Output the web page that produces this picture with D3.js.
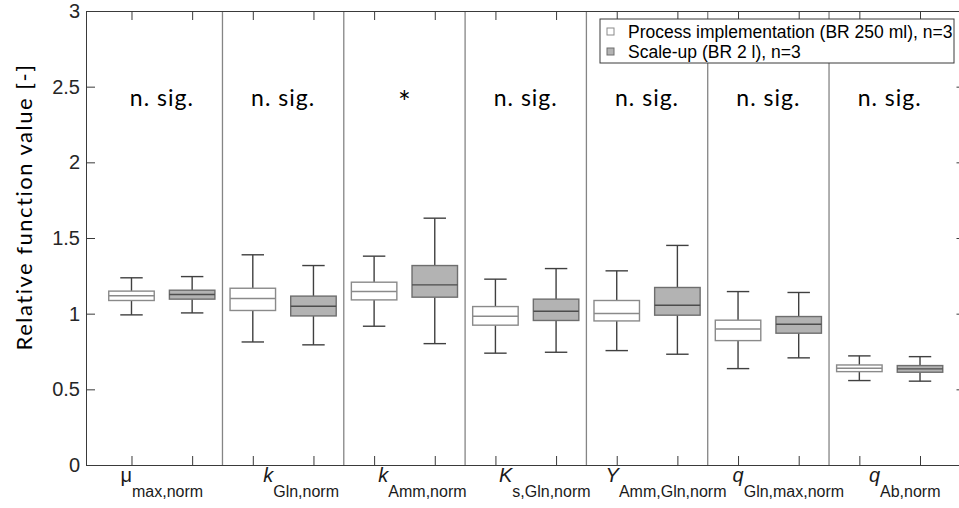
<!DOCTYPE html>
<html>
<head>
<meta charset="utf-8">
<script src="https://cdn.jsdelivr.net/npm/d3@7/dist/d3.min.js"></script>
<style>
  html, body { margin: 0; padding: 0; background: #fff; }
  svg { display: block; }
</style>
</head>
<body>
<svg id="chart" width="959" height="508"></svg>
<script>
// Parameter labels: main symbol + subscript
const labelMain = ["μ", "k", "k", "K", "Y", "q", "q"];
const labelSub = ["max,norm", "Gln,norm", "Amm,norm", "s,Gln,norm", "Amm,Gln,norm", "Gln,max,norm", "Ab,norm"];
const labelItalic = [false, true, true, true, true, true, true];

// Significance annotation per parameter
const significance = ["n. sig.", "n. sig.", "*", "n. sig.", "n. sig.", "n. sig.", "n. sig."];

// Series names
const seriesNames = ["Process implementation (BR 250 ml), n=3", "Scale-up (BR 2 l), n=3"];

// Process implementation (BR 250 ml): box-plot statistics
const implWhiskerLow  = [0.992, 0.813, 0.917, 0.739, 0.756, 0.637, 0.558];
const implQ1          = [1.087, 1.021, 1.091, 0.924, 0.952, 0.822, 0.617];
const implMedian      = [1.118, 1.100, 1.146, 0.983, 1.001, 0.899, 0.639];
const implQ3          = [1.149, 1.168, 1.208, 1.047, 1.087, 0.957, 0.661];
const implWhiskerHigh = [1.237, 1.389, 1.380, 1.228, 1.283, 1.146, 0.721];

// Scale-up (BR 2 l): box-plot statistics
const scaleWhiskerLow  = [1.005, 0.794, 0.802, 0.745, 0.732, 0.708, 0.554];
const scaleQ1          = [1.096, 0.985, 1.109, 0.955, 0.990, 0.871, 0.613];
const scaleMedian      = [1.127, 1.049, 1.190, 1.016, 1.056, 0.930, 0.635];
const scaleQ3          = [1.155, 1.116, 1.318, 1.096, 1.173, 0.981, 0.657];
const scaleWhiskerHigh = [1.245, 1.318, 1.631, 1.298, 1.451, 1.140, 0.716];

// Y tick values
const yTicks = [0, 0.5, 1, 1.5, 2, 2.5, 3];

// ---- layout ----
const svg = d3.select("#chart");
const plotLeft = 86, plotRight = 965.5, plotTop = 11, plotBottom = 465;
const tickLen = 9;
const labelNudge = [0, 18, 18, 19, 19, 20, 15];

const x = d3.scaleLinear().domain([0.25, 14.75]).range([plotLeft, plotRight]);
const y = d3.scaleLinear().domain([0, 3]).range([plotBottom, plotTop]);

const boxW = x(0.75) - x(0);
const capW = x(0.37) - x(0);

const series = [
  { lo: implWhiskerLow, q1: implQ1, med: implMedian, q3: implQ3, hi: implWhiskerHigh,
    fill: "#ffffff", edge: "#8a8a8a", medColor: "#8a8a8a", offset: 1 },
  { lo: scaleWhiskerLow, q1: scaleQ1, med: scaleMedian, q3: scaleQ3, hi: scaleWhiskerHigh,
    fill: "#b3b3b3", edge: "#6e6e6e", medColor: "#4d4d4d", offset: 2 }
];

// Group separators
const seps = d3.range(1, labelMain.length).map(i => 2 * i + 0.5);
svg.append("g").selectAll("line").data(seps).join("line")
  .attr("x1", d => x(d)).attr("x2", d => x(d))
  .attr("y1", plotTop).attr("y2", plotBottom)
  .attr("stroke", "#858585").attr("stroke-width", 1.3);

// Box plots
series.forEach(s => {
  const g = svg.append("g");
  const idx = d3.range(labelMain.length);
  const pos = i => x(2 * i + s.offset);
  // whiskers
  g.append("g").selectAll("line").data(idx).join("line")
    .attr("x1", pos).attr("x2", pos)
    .attr("y1", i => y(s.q3[i])).attr("y2", i => y(s.hi[i]))
    .attr("stroke", "#404040").attr("stroke-width", 1.4);
  g.append("g").selectAll("line").data(idx).join("line")
    .attr("x1", pos).attr("x2", pos)
    .attr("y1", i => y(s.q1[i])).attr("y2", i => y(s.lo[i]))
    .attr("stroke", "#404040").attr("stroke-width", 1.4);
  // caps
  [s.hi, s.lo].forEach(arr => {
    g.append("g").selectAll("line").data(idx).join("line")
      .attr("x1", i => pos(i) - capW / 2).attr("x2", i => pos(i) + capW / 2)
      .attr("y1", i => y(arr[i])).attr("y2", i => y(arr[i]))
      .attr("stroke", "#404040").attr("stroke-width", 1.4);
  });
  // boxes
  g.append("g").selectAll("rect").data(idx).join("rect")
    .attr("x", i => pos(i) - boxW / 2).attr("width", boxW)
    .attr("y", i => y(s.q3[i])).attr("height", i => y(s.q1[i]) - y(s.q3[i]))
    .attr("fill", s.fill).attr("stroke", s.edge).attr("stroke-width", 1.4);
  // medians
  g.append("g").selectAll("line").data(idx).join("line")
    .attr("x1", i => pos(i) - boxW / 2).attr("x2", i => pos(i) + boxW / 2)
    .attr("y1", i => y(s.med[i])).attr("y2", i => y(s.med[i]))
    .attr("stroke", s.medColor).attr("stroke-width", 1.4);
});

// Axes (inward ticks on all four sides)
const boxPositions = d3.range(1, 2 * labelMain.length + 1);
const axisColor = "#3a3a3a";
function styleAxis(g) {
  g.selectAll("path, line").attr("stroke", axisColor).attr("stroke-width", 1);
  g.selectAll("text").attr("fill", "#262626")
    .attr("font-family", "'Liberation Sans', Arial, sans-serif").attr("font-size", 20);
}
svg.append("g").attr("transform", `translate(${plotLeft},0)`)
  .call(d3.axisLeft(y).tickValues(yTicks).tickSize(-tickLen).tickSizeOuter(0).tickPadding(6)
    .tickFormat(d3.format("")))
  .call(styleAxis);
svg.append("g").attr("transform", `translate(${plotRight},0)`)
  .call(d3.axisRight(y).tickValues(yTicks).tickSize(-tickLen).tickSizeOuter(0).tickFormat(""))
  .call(styleAxis);
svg.append("g").attr("transform", `translate(0,${plotTop})`)
  .call(d3.axisTop(x).tickValues(boxPositions).tickSize(-tickLen).tickSizeOuter(0).tickFormat(""))
  .call(styleAxis);
svg.append("g").attr("transform", `translate(0,${plotBottom})`)
  .call(d3.axisBottom(x).tickValues(boxPositions).tickSize(-tickLen).tickSizeOuter(0).tickFormat(""))
  .call(styleAxis);

// Parameter labels with subscripts
const lab = svg.append("g").selectAll("text").data(labelMain).join("text")
  .attr("x", (d, i) => x(2 * i + 1.5) + labelNudge[i])
  .attr("y", 482)
  .attr("text-anchor", "middle")
  .attr("font-family", "'Liberation Sans', Arial, sans-serif")
  .attr("fill", "#1a1a1a");
lab.append("tspan")
  .attr("font-size", 20)
  .attr("font-style", (d, i) => labelItalic[i] ? "italic" : "normal")
  .text(d => d);
lab.append("tspan")
  .attr("font-size", 16)
  .attr("dy", 15)
  .text((d, i) => labelSub[i]);

// Significance annotations
svg.append("g").selectAll("text").data(significance).join("text")
  .attr("x", (d, i) => x(2 * i + 1.5))
  .attr("y", (d) => d === "*" ? 113 : 106)
  .attr("text-anchor", "middle")
  .attr("font-family", "Lato, 'Open Sans', sans-serif")
  .attr("font-size", d => d === "*" ? 30 : 23)
  .attr("letter-spacing", d => d === "*" ? 0 : 1)
  .attr("fill", "#000")
  .text(d => d);

// Y axis title
svg.append("text")
  .attr("transform", `translate(32,207) rotate(-90)`)
  .attr("text-anchor", "middle")
  .attr("font-family", "Lato, 'Open Sans', sans-serif")
  .attr("font-size", 22)
  .attr("letter-spacing", 1.5)
  .attr("fill", "#000")
  .text("Relative function value [-]");

// Legend
const leg = svg.append("g");
leg.append("rect").attr("x", 600).attr("y", 19).attr("width", 354).attr("height", 44)
  .attr("fill", "#fff").attr("stroke", "#3a3a3a").attr("stroke-width", 1);
series.forEach((s, i) => {
  const cy = 31.5 + i * 20;
  leg.append("rect").attr("x", 607).attr("y", cy - 3.5).attr("width", 7).attr("height", 7)
    .attr("fill", s.fill).attr("stroke", s.edge).attr("stroke-width", 1);
  leg.append("text").attr("x", 628).attr("y", cy + 6)
    .attr("font-family", "'Liberation Sans', Arial, sans-serif").attr("font-size", 17.5)
    .attr("fill", "#000").text(seriesNames[i]);
});
</script>
</body>
</html>
